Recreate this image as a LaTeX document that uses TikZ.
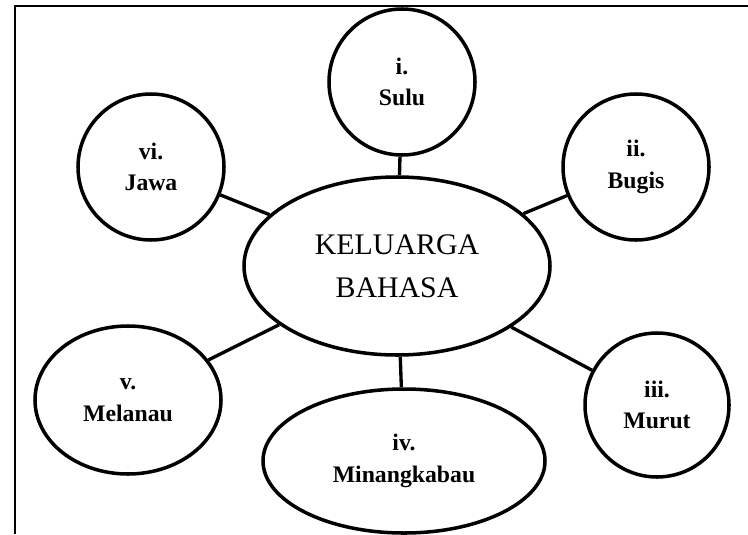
\documentclass[tikz,border=0pt]{standalone}
\usepackage{fontspec}
\setmainfont{Liberation Serif}
\usetikzlibrary{shapes.geometric}

\begin{document}
\begin{tikzpicture}[
    bulat/.style={draw, line width=2pt, circle, inner sep=0pt, minimum size=2.92cm, align=center,
      font=\fontsize{13.5}{18}\selectfont\bfseries},
    bujur/.style={draw, line width=2pt, ellipse, inner sep=0pt, align=center,
      font=\fontsize{13.5}{18}\selectfont\bfseries},
    garis/.style={line width=1.9pt}
  ]

    \useasboundingbox (0,0) rectangle (14.96,-10.68);
    \draw [line width=0.9pt] (14.96,-0.12) -- (0.30,-0.12) -- (0.30,-10.68);

    \node [bujur, minimum width=6.12cm, minimum height=3.56cm,
      font=\fontsize{17}{24.5}\selectfont] (pusat) at (7.94,-5.32) {KELUARGA\\BAHASA};

    \node [bulat] (sulu) at (8.04,-1.64) {i.\\Sulu};
    \node [bulat] (bugis) at (12.72,-3.34) {ii.\\Bugis};
    \node [bulat, minimum size=2.88cm] (murut) at (13.14,-8.10) {iii.\\Murut};
    \node [bujur, minimum width=5.64cm, minimum height=2.88cm] (minang) at (8.08,-9.22) {iv.\\Minangkabau};
    \node [bujur, minimum width=3.72cm, minimum height=2.96cm] (melanau) at (2.56,-8.00) {v.\\Melanau};
    \node [bulat] (jawa) at (3.02,-3.34) {vi.\\Jawa};

    \foreach \n in {sulu,bugis,murut,minang,melanau,jawa}
      \draw [garis] (pusat) -- (\n);

\end{tikzpicture}
\end{document}
